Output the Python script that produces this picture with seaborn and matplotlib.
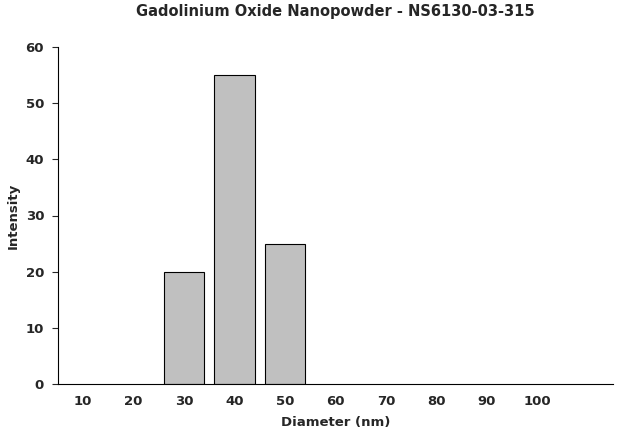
import pandas as pd
import matplotlib
matplotlib.use('Agg')
import matplotlib.pyplot as plt
import seaborn as sns

# data
diameters = ['10', '20', '30', '40', '50', '60', '70', '80', '90', '100']
intensity = [0, 0, 20, 55, 25, 0, 0, 0, 0, 0]

df = pd.DataFrame({'Diameter': diameters, 'Intensity': intensity})

sns.set_style('white')
plt.rcParams['font.family'] = ['DejaVu Sans']

fig = plt.figure(figsize=(6.24, 4.43), dpi=100)
ax = fig.add_axes([58 / 624, 1 - 384 / 443, (613 - 58) / 624, (384 - 47) / 443])

sns.barplot(data=df, x='Diameter', y='Intensity', order=diameters,
            color='#c0c0c0', edgecolor='black', linewidth=0.8,
            width=0.8, saturation=1, ax=ax)

# hide outlines of empty bars
for p in ax.patches:
    if p.get_height() == 0:
        p.set_linewidth(0)

ax.set_xlim(-0.5, 10.5)
ax.set_ylim(0, 60)
ax.set_yticks(range(0, 61, 10))
ax.tick_params(axis='both', labelsize=9.5, length=0, pad=8)
for lbl in ax.get_xticklabels() + ax.get_yticklabels():
    lbl.set_fontweight('bold')
ax.tick_params(axis='y', direction='out', length=4, left=True, pad=6)

ax.set_xlabel('Diameter (nm)', fontsize=9.5, fontweight='bold', labelpad=6)
ax.set_ylabel('Intensity', fontsize=9.5, fontweight='bold', labelpad=4)
ax.set_title('Gadolinium Oxide Nanopowder - NS6130-03-315', fontsize=10.5,
             fontweight='bold', pad=22)

for s in ['top', 'right']:
    ax.spines[s].set_visible(False)
for s in ['left', 'bottom']:
    ax.spines[s].set_color('black')
    ax.spines[s].set_linewidth(0.8)

fig.savefig('out.png', dpi=100)
